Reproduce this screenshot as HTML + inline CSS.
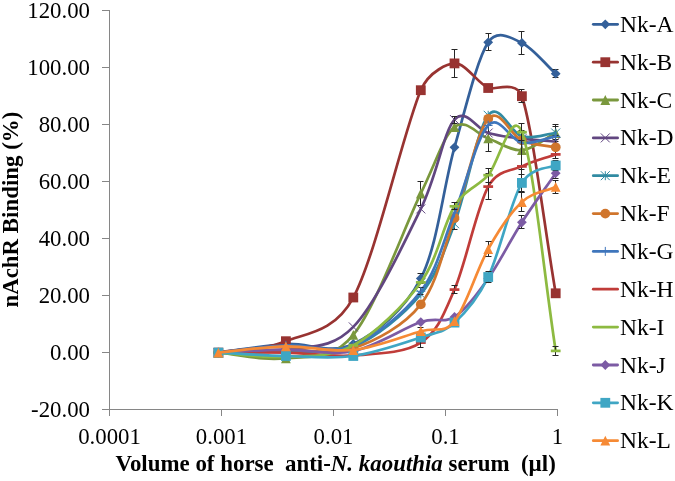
<!DOCTYPE html><html><head><meta charset="utf-8"><title>nAchR Binding chart</title><style>
html,body{margin:0;padding:0;background:#fff}
#c{position:relative;width:675px;height:481px;overflow:hidden;background:#fff}
</style></head><body><div id="c">
<svg width="675" height="481" viewBox="0 0 675 481" style="position:absolute;left:0;top:0;will-change:transform">
<g stroke="#868686" stroke-width="1" fill="none" shape-rendering="crispEdges">
<path d="M109.5,10.4 L109.5,416.1"/>
<path d="M102.0,409.6 L557.5,409.6"/>
<path d="M102.0,409.6 L109.5,409.6"/>
<path d="M102.0,352.6 L109.5,352.6"/>
<path d="M102.0,295.5 L109.5,295.5"/>
<path d="M102.0,238.5 L109.5,238.5"/>
<path d="M102.0,181.5 L109.5,181.5"/>
<path d="M102.0,124.5 L109.5,124.5"/>
<path d="M102.0,67.4 L109.5,67.4"/>
<path d="M102.0,10.4 L109.5,10.4"/>
<path d="M109.5,409.6 L109.5,416.1"/>
<path d="M221.5,409.6 L221.5,416.1"/>
<path d="M333.5,409.6 L333.5,416.1"/>
<path d="M445.5,409.6 L445.5,416.1"/>
<path d="M557.5,409.6 L557.5,416.1"/>
</g>
<path d="M218.40,352.57 C240.90,349.72 263.42,345.44 285.90,344.02 C308.38,342.59 330.82,354.95 353.30,344.02 C375.78,333.09 403.93,311.23 420.80,278.43 C437.67,245.64 443.27,186.62 454.50,147.27 C465.73,107.92 476.97,59.73 488.20,42.34 C497.34,28.18 512.74,38.65 521.90,42.91 C533.15,48.13 544.43,63.44 555.70,73.70" stroke="#34609a" stroke-width="2.7" fill="none" stroke-linecap="round" stroke-linejoin="round"/>
<path d="M420.5,273.5 L420.5,283.5 M417.5,273.5 L423.5,273.5 M417.5,283.5 L423.5,283.5 M488.5,33.5 L488.5,50.5 M485.5,33.5 L491.5,33.5 M485.5,50.5 L491.5,50.5 M521.5,31.5 L521.5,54.5 M518.5,31.5 L524.5,31.5 M518.5,54.5 L524.5,54.5 M555.5,69.5 L555.5,77.5 M552.5,69.5 L558.5,69.5 M552.5,77.5 L558.5,77.5" stroke="#262626" stroke-width="1" fill="none"/>
<path d="M218.4,347.7 L223.3,352.6 L218.4,357.5 L213.5,352.6Z" fill="#34609a"/>
<path d="M285.9,339.1 L290.8,344.0 L285.9,348.9 L281.0,344.0Z" fill="#34609a"/>
<path d="M353.3,339.1 L358.2,344.0 L353.3,348.9 L348.4,344.0Z" fill="#34609a"/>
<path d="M420.8,273.5 L425.7,278.4 L420.8,283.3 L415.9,278.4Z" fill="#34609a"/>
<path d="M454.5,142.4 L459.4,147.3 L454.5,152.2 L449.6,147.3Z" fill="#34609a"/>
<path d="M488.2,37.4 L493.1,42.3 L488.2,47.2 L483.3,42.3Z" fill="#34609a"/>
<path d="M521.9,38.0 L526.8,42.9 L521.9,47.8 L517.0,42.9Z" fill="#34609a"/>
<path d="M555.7,68.8 L560.6,73.7 L555.7,78.6 L550.8,73.7Z" fill="#34609a"/>
<path d="M218.40,352.57 C240.90,348.77 263.42,350.34 285.90,341.17 C304.91,333.41 334.29,332.90 353.30,297.54 C375.78,255.72 403.93,129.26 420.80,90.24 C429.34,70.48 448.81,63.63 454.50,63.44 C465.73,63.06 476.97,82.49 488.20,87.96 C493.61,90.59 516.48,79.75 521.90,96.23 C533.15,130.45 544.43,227.58 555.70,293.26" stroke="#983331" stroke-width="2.7" fill="none" stroke-linecap="round" stroke-linejoin="round"/>
<path d="M454.5,49.5 L454.5,77.5 M451.5,49.5 L457.5,49.5 M451.5,77.5 L457.5,77.5 M521.5,89.5 L521.5,102.5 M518.5,89.5 L524.5,89.5 M518.5,102.5 L524.5,102.5" stroke="#262626" stroke-width="1" fill="none"/>
<rect x="213.5" y="347.7" width="9.8" height="9.8" fill="#983331"/>
<rect x="281.0" y="336.3" width="9.8" height="9.8" fill="#983331"/>
<rect x="348.4" y="292.6" width="9.8" height="9.8" fill="#983331"/>
<rect x="415.9" y="85.3" width="9.8" height="9.8" fill="#983331"/>
<rect x="449.6" y="58.5" width="9.8" height="9.8" fill="#983331"/>
<rect x="483.3" y="83.1" width="9.8" height="9.8" fill="#983331"/>
<rect x="517.0" y="91.3" width="9.8" height="9.8" fill="#983331"/>
<rect x="550.8" y="288.4" width="9.8" height="9.8" fill="#983331"/>
<path d="M218.40,352.57 C240.90,354.47 263.42,361.22 285.90,358.27 C308.38,355.33 330.82,362.36 353.30,334.89 C375.78,307.42 403.93,228.11 420.80,193.46 C437.10,159.97 443.64,135.89 454.50,127.02 C465.73,117.85 476.97,134.58 488.20,138.43 C499.43,142.28 510.65,151.02 521.90,150.12 C533.15,149.22 544.43,138.71 555.70,133.01" stroke="#7a983d" stroke-width="2.7" fill="none" stroke-linecap="round" stroke-linejoin="round"/>
<path d="M420.5,181.5 L420.5,205.5 M417.5,181.5 L423.5,181.5 M417.5,205.5 L423.5,205.5 M488.5,125.5 L488.5,151.5 M485.5,125.5 L491.5,125.5 M485.5,151.5 L491.5,151.5 M521.5,130.5 L521.5,169.5 M518.5,130.5 L524.5,130.5 M518.5,169.5 L524.5,169.5 M555.5,124.5 L555.5,141.5 M552.5,124.5 L558.5,124.5 M552.5,141.5 L558.5,141.5" stroke="#262626" stroke-width="1" fill="none"/>
<path d="M218.4,347.7 L223.3,357.5 L213.5,357.5Z" fill="#7a983d"/>
<path d="M285.9,353.4 L290.8,363.2 L281.0,363.2Z" fill="#7a983d"/>
<path d="M353.3,330.0 L358.2,339.8 L348.4,339.8Z" fill="#7a983d"/>
<path d="M420.8,188.6 L425.7,198.4 L415.9,198.4Z" fill="#7a983d"/>
<path d="M454.5,122.1 L459.4,131.9 L449.6,131.9Z" fill="#7a983d"/>
<path d="M488.2,133.5 L493.1,143.3 L483.3,143.3Z" fill="#7a983d"/>
<path d="M521.9,145.2 L526.8,155.0 L517.0,155.0Z" fill="#7a983d"/>
<path d="M555.7,128.1 L560.6,137.9 L550.8,137.9Z" fill="#7a983d"/>
<path d="M218.40,352.57 C240.90,351.62 263.42,354.00 285.90,349.72 C308.38,345.44 330.82,350.39 353.30,326.91 C375.78,303.43 403.93,243.41 420.80,208.86 C437.67,174.31 443.27,132.25 454.50,119.61 C465.73,106.97 476.97,129.83 488.20,133.01 C499.43,136.20 510.65,137.29 521.90,138.71 C533.15,140.14 544.43,140.62 555.70,141.57" stroke="#614680" stroke-width="2.7" fill="none" stroke-linecap="round" stroke-linejoin="round"/>
<path d="M454.5,116.5 L454.5,123.5 M451.5,116.5 L457.5,116.5 M451.5,123.5 L457.5,123.5" stroke="#262626" stroke-width="1" fill="none"/>
<path d="M213.9,348.1 L222.9,357.1 M213.9,357.1 L222.9,348.1" stroke="#614680" stroke-width="1" fill="none"/>
<path d="M281.4,345.2 L290.4,354.2 M281.4,354.2 L290.4,345.2" stroke="#614680" stroke-width="1" fill="none"/>
<path d="M348.8,322.4 L357.8,331.4 M348.8,331.4 L357.8,322.4" stroke="#614680" stroke-width="1" fill="none"/>
<path d="M416.3,204.4 L425.3,213.4 M416.3,213.4 L425.3,204.4" stroke="#614680" stroke-width="1" fill="none"/>
<path d="M450.0,115.1 L459.0,124.1 M450.0,124.1 L459.0,115.1" stroke="#614680" stroke-width="1" fill="none"/>
<path d="M483.7,128.5 L492.7,137.5 M483.7,137.5 L492.7,128.5" stroke="#614680" stroke-width="1" fill="none"/>
<path d="M517.4,134.2 L526.4,143.2 M517.4,143.2 L526.4,134.2" stroke="#614680" stroke-width="1" fill="none"/>
<path d="M551.2,137.1 L560.2,146.1 M551.2,146.1 L560.2,137.1" stroke="#614680" stroke-width="1" fill="none"/>
<path d="M218.40,352.57 C240.90,352.10 263.42,352.10 285.90,351.15 C308.38,350.20 330.82,356.37 353.30,346.87 C375.78,337.36 403.93,314.65 420.80,294.12 C437.67,273.59 443.27,253.48 454.50,223.69 C465.73,193.89 476.97,129.87 488.20,115.33 C499.43,100.79 510.65,133.49 521.90,136.43 C533.15,139.38 544.43,134.15 555.70,133.01" stroke="#318ba2" stroke-width="2.7" fill="none" stroke-linecap="round" stroke-linejoin="round"/>
<path d="M454.5,217.5 L454.5,229.5 M451.5,217.5 L457.5,217.5 M451.5,229.5 L457.5,229.5 M555.5,126.5 L555.5,139.5 M552.5,126.5 L558.5,126.5 M552.5,139.5 L558.5,139.5" stroke="#262626" stroke-width="1" fill="none"/>
<path d="M213.9,348.1 L222.9,357.1 M213.9,357.1 L222.9,348.1 M218.4,348.1 L218.4,357.1" stroke="#318ba2" stroke-width="1" fill="none"/>
<path d="M281.4,346.6 L290.4,355.6 M281.4,355.6 L290.4,346.6 M285.9,346.6 L285.9,355.6" stroke="#318ba2" stroke-width="1" fill="none"/>
<path d="M348.8,342.4 L357.8,351.4 M348.8,351.4 L357.8,342.4 M353.3,342.4 L353.3,351.4" stroke="#318ba2" stroke-width="1" fill="none"/>
<path d="M416.3,289.6 L425.3,298.6 M416.3,298.6 L425.3,289.6 M420.8,289.6 L420.8,298.6" stroke="#318ba2" stroke-width="1" fill="none"/>
<path d="M450.0,219.2 L459.0,228.2 M450.0,228.2 L459.0,219.2 M454.5,219.2 L454.5,228.2" stroke="#318ba2" stroke-width="1" fill="none"/>
<path d="M483.7,110.8 L492.7,119.8 M483.7,119.8 L492.7,110.8 M488.2,110.8 L488.2,119.8" stroke="#318ba2" stroke-width="1" fill="none"/>
<path d="M517.4,131.9 L526.4,140.9 M517.4,140.9 L526.4,131.9 M521.9,131.9 L521.9,140.9" stroke="#318ba2" stroke-width="1" fill="none"/>
<path d="M551.2,128.5 L560.2,137.5 M551.2,137.5 L560.2,128.5 M555.7,128.5 L555.7,137.5" stroke="#318ba2" stroke-width="1" fill="none"/>
<path d="M218.40,352.57 C240.90,351.62 263.42,350.43 285.90,349.72 C308.38,349.01 330.82,355.85 353.30,348.29 C375.78,340.74 403.93,326.10 420.80,304.38 C437.67,282.66 443.27,248.92 454.50,217.98 C465.73,187.05 476.97,131.68 488.20,118.75 C499.43,105.83 510.65,135.67 521.90,140.43 C533.15,145.18 544.43,144.99 555.70,147.27" stroke="#d0752c" stroke-width="2.7" fill="none" stroke-linecap="round" stroke-linejoin="round"/>
<path d="M555.5,135.5 L555.5,158.5 M552.5,135.5 L558.5,135.5 M552.5,158.5 L558.5,158.5" stroke="#262626" stroke-width="1" fill="none"/>
<circle cx="218.4" cy="352.6" r="4.9" fill="#d0752c"/>
<circle cx="285.9" cy="349.7" r="4.9" fill="#d0752c"/>
<circle cx="353.3" cy="348.3" r="4.9" fill="#d0752c"/>
<circle cx="420.8" cy="304.4" r="4.9" fill="#d0752c"/>
<circle cx="454.5" cy="218.0" r="4.9" fill="#d0752c"/>
<circle cx="488.2" cy="118.8" r="4.9" fill="#d0752c"/>
<circle cx="521.9" cy="140.4" r="4.9" fill="#d0752c"/>
<circle cx="555.7" cy="147.3" r="4.9" fill="#d0752c"/>
<path d="M218.40,352.57 C240.90,350.20 263.42,346.63 285.90,345.44 C308.38,344.25 330.82,354.47 353.30,345.44 C375.78,336.41 403.93,313.36 420.80,291.27 C437.67,269.17 443.27,240.51 454.50,212.85 C465.73,185.19 476.97,137.00 488.20,125.31 C499.43,113.62 510.65,140.85 521.90,142.71 C533.15,144.56 544.43,138.52 555.70,136.43" stroke="#3f76bc" stroke-width="2.7" fill="none" stroke-linecap="round" stroke-linejoin="round"/>
<path d="M420.5,287.5 L420.5,294.5 M417.5,287.5 L423.5,287.5 M417.5,294.5 L423.5,294.5" stroke="#262626" stroke-width="1" fill="none"/>
<path d="M218.4,348.1 L218.4,357.1 M213.9,352.6 L222.9,352.6" stroke="#3f76bc" stroke-width="1" fill="none"/>
<path d="M285.9,340.9 L285.9,349.9 M281.4,345.4 L290.4,345.4" stroke="#3f76bc" stroke-width="1" fill="none"/>
<path d="M353.3,340.9 L353.3,349.9 M348.8,345.4 L357.8,345.4" stroke="#3f76bc" stroke-width="1" fill="none"/>
<path d="M420.8,286.8 L420.8,295.8 M416.3,291.3 L425.3,291.3" stroke="#3f76bc" stroke-width="1" fill="none"/>
<path d="M454.5,208.4 L454.5,217.4 M450.0,212.9 L459.0,212.9" stroke="#3f76bc" stroke-width="1" fill="none"/>
<path d="M488.2,120.8 L488.2,129.8 M483.7,125.3 L492.7,125.3" stroke="#3f76bc" stroke-width="1" fill="none"/>
<path d="M521.9,138.2 L521.9,147.2 M517.4,142.7 L526.4,142.7" stroke="#3f76bc" stroke-width="1" fill="none"/>
<path d="M555.7,131.9 L555.7,140.9 M551.2,136.4 L560.2,136.4" stroke="#3f76bc" stroke-width="1" fill="none"/>
<path d="M218.40,352.57 C240.90,352.57 263.42,352.10 285.90,352.57 C308.38,353.05 330.82,357.09 353.30,355.42 C375.78,353.76 403.93,353.57 420.80,342.59 C437.67,331.61 443.27,315.55 454.50,289.55 C465.73,263.56 476.97,207.15 488.20,186.62 C497.64,169.37 512.45,170.88 521.90,166.37 C533.15,161.00 544.43,158.39 555.70,154.40" stroke="#c03c39" stroke-width="2.7" fill="none" stroke-linecap="round" stroke-linejoin="round"/>
<path d="M454.5,285.5 L454.5,293.5 M451.5,285.5 L457.5,285.5 M451.5,293.5 L457.5,293.5 M488.5,173.5 L488.5,199.5 M485.5,173.5 L491.5,173.5 M485.5,199.5 L491.5,199.5 M521.5,140.5 L521.5,192.5 M518.5,140.5 L524.5,140.5 M518.5,192.5 L524.5,192.5" stroke="#262626" stroke-width="1" fill="none"/>
<path d="M213.5,352.6 L223.3,352.6" stroke="#c03c39" stroke-width="2.7" fill="none"/>
<path d="M281.0,352.6 L290.8,352.6" stroke="#c03c39" stroke-width="2.7" fill="none"/>
<path d="M348.4,355.4 L358.2,355.4" stroke="#c03c39" stroke-width="2.7" fill="none"/>
<path d="M415.9,342.6 L425.7,342.6" stroke="#c03c39" stroke-width="2.7" fill="none"/>
<path d="M449.6,289.6 L459.4,289.6" stroke="#c03c39" stroke-width="2.7" fill="none"/>
<path d="M483.3,186.6 L493.1,186.6" stroke="#c03c39" stroke-width="2.7" fill="none"/>
<path d="M517.0,166.4 L526.8,166.4" stroke="#c03c39" stroke-width="2.7" fill="none"/>
<path d="M550.8,154.4 L560.6,154.4" stroke="#c03c39" stroke-width="2.7" fill="none"/>
<path d="M218.40,352.57 C240.90,354.00 263.42,358.04 285.90,356.85 C308.38,355.66 330.82,357.85 353.30,345.44 C375.78,333.04 403.93,305.62 420.80,282.43 C437.67,259.23 443.27,224.16 454.50,206.29 C465.73,188.42 476.97,187.57 488.20,175.21 C497.99,164.44 512.09,106.64 521.90,132.16 C533.15,161.43 544.43,277.96 555.70,350.86" stroke="#8dba41" stroke-width="2.7" fill="none" stroke-linecap="round" stroke-linejoin="round"/>
<path d="M454.5,202.5 L454.5,209.5 M451.5,202.5 L457.5,202.5 M451.5,209.5 L457.5,209.5 M488.5,168.5 L488.5,182.5 M485.5,168.5 L491.5,168.5 M485.5,182.5 L491.5,182.5 M521.5,123.5 L521.5,140.5 M518.5,123.5 L524.5,123.5 M518.5,140.5 L524.5,140.5 M555.5,346.5 L555.5,355.5 M552.5,346.5 L558.5,346.5 M552.5,355.5 L558.5,355.5" stroke="#262626" stroke-width="1" fill="none"/>
<path d="M213.5,352.6 L223.3,352.6" stroke="#8dba41" stroke-width="2.7" fill="none"/>
<path d="M281.0,356.8 L290.8,356.8" stroke="#8dba41" stroke-width="2.7" fill="none"/>
<path d="M348.4,345.4 L358.2,345.4" stroke="#8dba41" stroke-width="2.7" fill="none"/>
<path d="M415.9,282.4 L425.7,282.4" stroke="#8dba41" stroke-width="2.7" fill="none"/>
<path d="M449.6,206.3 L459.4,206.3" stroke="#8dba41" stroke-width="2.7" fill="none"/>
<path d="M483.3,175.2 L493.1,175.2" stroke="#8dba41" stroke-width="2.7" fill="none"/>
<path d="M517.0,132.2 L526.8,132.2" stroke="#8dba41" stroke-width="2.7" fill="none"/>
<path d="M550.8,350.9 L560.6,350.9" stroke="#8dba41" stroke-width="2.7" fill="none"/>
<path d="M218.40,352.57 C240.90,351.62 263.42,349.96 285.90,349.72 C308.38,349.48 330.82,355.76 353.30,351.15 C375.78,346.54 403.93,327.76 420.80,322.06 C436.95,316.60 443.75,323.89 454.50,316.93 C465.73,309.66 476.97,294.21 488.20,278.43 C499.43,262.66 510.65,239.80 521.90,222.26 C533.15,204.72 544.43,189.56 555.70,173.22" stroke="#7c5ba4" stroke-width="2.7" fill="none" stroke-linecap="round" stroke-linejoin="round"/>
<path d="M521.5,215.5 L521.5,228.5 M518.5,215.5 L524.5,215.5 M518.5,228.5 L524.5,228.5 M555.5,168.5 L555.5,178.5 M552.5,168.5 L558.5,168.5 M552.5,178.5 L558.5,178.5" stroke="#262626" stroke-width="1" fill="none"/>
<path d="M218.4,347.7 L223.3,352.6 L218.4,357.5 L213.5,352.6Z" fill="#7c5ba4"/>
<path d="M285.9,344.8 L290.8,349.7 L285.9,354.6 L281.0,349.7Z" fill="#7c5ba4"/>
<path d="M353.3,346.2 L358.2,351.1 L353.3,356.0 L348.4,351.1Z" fill="#7c5ba4"/>
<path d="M420.8,317.2 L425.7,322.1 L420.8,327.0 L415.9,322.1Z" fill="#7c5ba4"/>
<path d="M454.5,312.0 L459.4,316.9 L454.5,321.8 L449.6,316.9Z" fill="#7c5ba4"/>
<path d="M488.2,273.5 L493.1,278.4 L488.2,283.3 L483.3,278.4Z" fill="#7c5ba4"/>
<path d="M521.9,217.4 L526.8,222.3 L521.9,227.2 L517.0,222.3Z" fill="#7c5ba4"/>
<path d="M555.7,168.3 L560.6,173.2 L555.7,178.1 L550.8,173.2Z" fill="#7c5ba4"/>
<path d="M218.40,352.57 C240.90,353.71 263.42,355.42 285.90,355.99 C308.38,356.56 330.82,359.08 353.30,355.99 C375.78,352.90 403.93,343.02 420.80,337.46 C437.67,331.90 443.27,332.71 454.50,322.63 C465.73,312.56 476.97,300.30 488.20,277.01 C499.43,253.72 510.65,201.49 521.90,182.91 C531.74,166.65 550.77,168.05 555.70,165.52" stroke="#3fa6c4" stroke-width="2.7" fill="none" stroke-linecap="round" stroke-linejoin="round"/>
<path d="M420.5,327.5 L420.5,347.5 M417.5,327.5 L423.5,327.5 M417.5,347.5 L423.5,347.5 M488.5,271.5 L488.5,282.5 M485.5,271.5 L491.5,271.5 M485.5,282.5 L491.5,282.5 M521.5,174.5 L521.5,191.5 M518.5,174.5 L524.5,174.5 M518.5,191.5 L524.5,191.5 M555.5,160.5 L555.5,170.5 M552.5,160.5 L558.5,160.5 M552.5,170.5 L558.5,170.5" stroke="#262626" stroke-width="1" fill="none"/>
<rect x="213.5" y="347.7" width="9.8" height="9.8" fill="#3fa6c4"/>
<rect x="281.0" y="351.1" width="9.8" height="9.8" fill="#3fa6c4"/>
<rect x="348.4" y="351.1" width="9.8" height="9.8" fill="#3fa6c4"/>
<rect x="415.9" y="332.6" width="9.8" height="9.8" fill="#3fa6c4"/>
<rect x="449.6" y="317.7" width="9.8" height="9.8" fill="#3fa6c4"/>
<rect x="483.3" y="272.1" width="9.8" height="9.8" fill="#3fa6c4"/>
<rect x="517.0" y="178.0" width="9.8" height="9.8" fill="#3fa6c4"/>
<rect x="550.8" y="160.6" width="9.8" height="9.8" fill="#3fa6c4"/>
<path d="M218.40,352.57 C240.90,350.48 263.42,346.73 285.90,346.30 C308.38,345.87 330.82,352.52 353.30,350.01 C375.78,347.49 403.93,335.99 420.80,331.19 C437.54,326.42 443.35,334.79 454.50,321.21 C465.73,307.52 476.97,268.93 488.20,249.06 C499.43,229.20 510.65,212.38 521.90,202.02 C533.15,191.66 544.43,191.94 555.70,186.90" stroke="#f68a35" stroke-width="2.7" fill="none" stroke-linecap="round" stroke-linejoin="round"/>
<path d="M488.5,241.5 L488.5,256.5 M485.5,241.5 L491.5,241.5 M485.5,256.5 L491.5,256.5 M521.5,192.5 L521.5,211.5 M518.5,192.5 L524.5,192.5 M518.5,211.5 L524.5,211.5 M555.5,180.5 L555.5,193.5 M552.5,180.5 L558.5,180.5 M552.5,193.5 L558.5,193.5" stroke="#262626" stroke-width="1" fill="none"/>
<path d="M218.4,347.7 L223.3,357.5 L213.5,357.5Z" fill="#f68a35"/>
<path d="M285.9,341.4 L290.8,351.2 L281.0,351.2Z" fill="#f68a35"/>
<path d="M353.3,345.1 L358.2,354.9 L348.4,354.9Z" fill="#f68a35"/>
<path d="M420.8,326.3 L425.7,336.1 L415.9,336.1Z" fill="#f68a35"/>
<path d="M454.5,316.3 L459.4,326.1 L449.6,326.1Z" fill="#f68a35"/>
<path d="M488.2,244.2 L493.1,254.0 L483.3,254.0Z" fill="#f68a35"/>
<path d="M521.9,197.1 L526.8,206.9 L517.0,206.9Z" fill="#f68a35"/>
<path d="M555.7,182.0 L560.6,191.8 L550.8,191.8Z" fill="#f68a35"/>
<path d="M593.3,24.3 L617.6,24.3" stroke="#34609a" stroke-width="2.8" stroke-linecap="round"/>
<path d="M605.3,19.4 L610.2,24.3 L605.3,29.2 L600.4,24.3Z" fill="#34609a"/>
<path d="M593.3,62.2 L617.6,62.2" stroke="#983331" stroke-width="2.8" stroke-linecap="round"/>
<rect x="600.4" y="57.3" width="9.8" height="9.8" fill="#983331"/>
<path d="M593.3,100.0 L617.6,100.0" stroke="#7a983d" stroke-width="2.8" stroke-linecap="round"/>
<path d="M605.3,95.1 L610.2,104.9 L600.4,104.9Z" fill="#7a983d"/>
<path d="M593.3,137.9 L617.6,137.9" stroke="#614680" stroke-width="2.8" stroke-linecap="round"/>
<path d="M600.8,133.4 L609.8,142.4 M600.8,142.4 L609.8,133.4" stroke="#614680" stroke-width="1" fill="none"/>
<path d="M593.3,175.7 L617.6,175.7" stroke="#318ba2" stroke-width="2.8" stroke-linecap="round"/>
<path d="M600.8,171.2 L609.8,180.2 M600.8,180.2 L609.8,171.2 M605.3,171.2 L605.3,180.2" stroke="#318ba2" stroke-width="1" fill="none"/>
<path d="M593.3,213.6 L617.6,213.6" stroke="#d0752c" stroke-width="2.8" stroke-linecap="round"/>
<circle cx="605.3" cy="213.6" r="4.9" fill="#d0752c"/>
<path d="M593.3,251.4 L617.6,251.4" stroke="#3f76bc" stroke-width="2.8" stroke-linecap="round"/>
<path d="M605.3,246.9 L605.3,255.9 M600.8,251.4 L609.8,251.4" stroke="#3f76bc" stroke-width="1" fill="none"/>
<path d="M593.3,289.2 L617.6,289.2" stroke="#c03c39" stroke-width="2.8" stroke-linecap="round"/>
<path d="M593.3,327.1 L617.6,327.1" stroke="#8dba41" stroke-width="2.8" stroke-linecap="round"/>
<path d="M593.3,365.0 L617.6,365.0" stroke="#7c5ba4" stroke-width="2.8" stroke-linecap="round"/>
<path d="M605.3,360.1 L610.2,365.0 L605.3,369.9 L600.4,365.0Z" fill="#7c5ba4"/>
<path d="M593.3,402.8 L617.6,402.8" stroke="#3fa6c4" stroke-width="2.8" stroke-linecap="round"/>
<rect x="600.4" y="397.9" width="9.8" height="9.8" fill="#3fa6c4"/>
<path d="M593.3,440.7 L617.6,440.7" stroke="#f68a35" stroke-width="2.8" stroke-linecap="round"/>
<path d="M605.3,435.8 L610.2,445.6 L600.4,445.6Z" fill="#f68a35"/>
<g font-family="Liberation Serif, serif" fill="#000">
<text x="90" y="417.2" font-size="22.8" text-anchor="end">-20.00</text>
<text x="90" y="360.2" font-size="22.8" text-anchor="end">0.00</text>
<text x="90" y="303.1" font-size="22.8" text-anchor="end">20.00</text>
<text x="90" y="246.1" font-size="22.8" text-anchor="end">40.00</text>
<text x="90" y="189.1" font-size="22.8" text-anchor="end">60.00</text>
<text x="90" y="132.1" font-size="22.8" text-anchor="end">80.00</text>
<text x="90" y="75.0" font-size="22.8" text-anchor="end">100.00</text>
<text x="90" y="18.0" font-size="22.8" text-anchor="end">120.00</text>
<text x="109.5" y="444.2" font-size="22.8" text-anchor="middle">0.0001</text>
<text x="221.5" y="444.2" font-size="22.8" text-anchor="middle">0.001</text>
<text x="333.5" y="444.2" font-size="22.8" text-anchor="middle">0.01</text>
<text x="445.5" y="444.2" font-size="22.8" text-anchor="middle">0.1</text>
<text x="557.5" y="444.2" font-size="22.8" text-anchor="middle">1</text>
<text x="620" y="31.8" font-size="23.5" >Nk-A</text>
<text x="620" y="69.7" font-size="23.5" >Nk-B</text>
<text x="620" y="107.5" font-size="23.5" >Nk-C</text>
<text x="620" y="145.4" font-size="23.5" >Nk-D</text>
<text x="620" y="183.2" font-size="23.5" >Nk-E</text>
<text x="620" y="221.1" font-size="23.5" >Nk-F</text>
<text x="620" y="258.9" font-size="23.5" >Nk-G</text>
<text x="620" y="296.8" font-size="23.5" >Nk-H</text>
<text x="620" y="334.6" font-size="23.5" >Nk-I</text>
<text x="620" y="372.5" font-size="23.5" >Nk-J</text>
<text x="620" y="410.3" font-size="23.5" >Nk-K</text>
<text x="620" y="448.2" font-size="23.5" >Nk-L</text>
<text x="115.5" y="471.3" font-size="22.9" font-weight="bold" xml:space="preserve" style="white-space:pre">Volume of horse  anti-<tspan font-style="italic">N. kaouthia</tspan> serum  (µl)</text>
<text transform="translate(17.6,307.6) rotate(-90)" font-size="22.9" font-weight="bold">nAchR Binding (%)</text>
</g>
</svg>
</div></body></html>
